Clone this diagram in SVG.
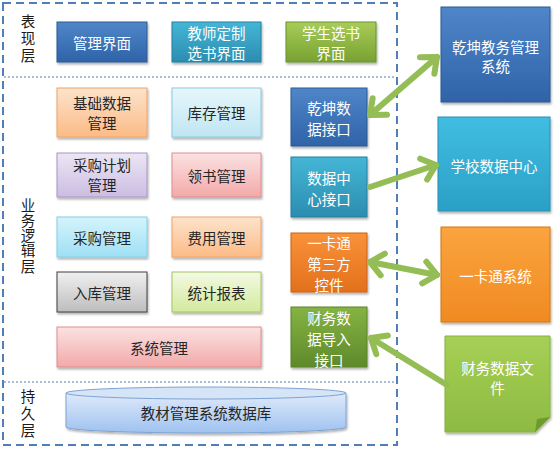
<svg xmlns="http://www.w3.org/2000/svg" width="556" height="450" viewBox="0 0 556 450">
<style>
text{font-family:"Noto Sans CJK SC","Noto Sans",sans-serif;font-size:14.5px;text-anchor:middle;dominant-baseline:central}
.w{fill:#ffffff}
.d{fill:#262626}
.lab{font-size:14.5px;fill:#1a1a1a;writing-mode:vertical-rl;glyph-orientation-vertical:0;dominant-baseline:auto}
.box{stroke-width:1;filter:url(#sh)}
.arrow{fill:none;stroke:#94bd55;stroke-width:6;stroke-linecap:round}
</style>
<defs>
<filter id="sh" x="-10%" y="-10%" width="125%" height="130%"><feDropShadow dx="1" dy="2" stdDeviation="1.2" flood-color="#000" flood-opacity="0.3"/></filter>
<linearGradient id="gBlue" x1="0" y1="0" x2="0" y2="1"><stop offset="0" stop-color="#4f86c9"/><stop offset="1" stop-color="#2f63a8"/></linearGradient>
<linearGradient id="gTeal" x1="0" y1="0" x2="0" y2="1"><stop offset="0" stop-color="#45b6d6"/><stop offset="1" stop-color="#2b8db0"/></linearGradient>
<linearGradient id="gTeal2" x1="0" y1="0" x2="0" y2="1"><stop offset="0" stop-color="#41bde2"/><stop offset="1" stop-color="#2aa0c6"/></linearGradient>
<linearGradient id="gGreen" x1="0" y1="0" x2="0" y2="1"><stop offset="0" stop-color="#a8cc58"/><stop offset="1" stop-color="#78a232"/></linearGradient>
<linearGradient id="gGreen2" x1="0" y1="0" x2="0" y2="1"><stop offset="0" stop-color="#86b344"/><stop offset="1" stop-color="#5e8a2a"/></linearGradient>
<linearGradient id="gGreen3" x1="0" y1="0" x2="0" y2="1"><stop offset="0" stop-color="#a6cf55"/><stop offset="1" stop-color="#8dbb42"/></linearGradient>
<linearGradient id="gOrange" x1="0" y1="0" x2="0" y2="1"><stop offset="0" stop-color="#f9923a"/><stop offset="1" stop-color="#e3701c"/></linearGradient>
<linearGradient id="gOrange2" x1="0" y1="0" x2="0" y2="1"><stop offset="0" stop-color="#fba43e"/><stop offset="1" stop-color="#f08a22"/></linearGradient>
<linearGradient id="gLOrange" x1="0" y1="0" x2="0" y2="1"><stop offset="0" stop-color="#fde3cc"/><stop offset="1" stop-color="#fbbb86"/></linearGradient>
<linearGradient id="gLCyan" x1="0" y1="0" x2="0" y2="1"><stop offset="0" stop-color="#e6f6fb"/><stop offset="1" stop-color="#bfe6f2"/></linearGradient>
<linearGradient id="gLCyan2" x1="0" y1="0" x2="0" y2="1"><stop offset="0" stop-color="#d4f4fc"/><stop offset="1" stop-color="#9fe0f4"/></linearGradient>
<linearGradient id="gLPurple" x1="0" y1="0" x2="0" y2="1"><stop offset="0" stop-color="#ece6f4"/><stop offset="1" stop-color="#cbbde2"/></linearGradient>
<linearGradient id="gLRed" x1="0" y1="0" x2="0" y2="1"><stop offset="0" stop-color="#fbe2e2"/><stop offset="1" stop-color="#f3a9a9"/></linearGradient>
<linearGradient id="gGray" x1="0" y1="0" x2="0" y2="1"><stop offset="0" stop-color="#f0f0f0"/><stop offset="1" stop-color="#bdbdbd"/></linearGradient>
<linearGradient id="gLGreen" x1="0" y1="0" x2="0" y2="1"><stop offset="0" stop-color="#f3f9e4"/><stop offset="1" stop-color="#d4ea9c"/></linearGradient>
<linearGradient id="gDb" x1="0" y1="0" x2="0" y2="1"><stop offset="0" stop-color="#dfeafb"/><stop offset="1" stop-color="#9fc2ef"/></linearGradient>
<marker id="ah" markerUnits="userSpaceOnUse" viewBox="-20 -15 26 30" markerWidth="26" markerHeight="30" refX="0" refY="0" orient="auto-start-reverse" overflow="visible">
<path d="M-13,-11 L0,0 L-13,11" fill="none" stroke="#94bd55" stroke-width="6" stroke-linecap="round" stroke-linejoin="round"/>
</marker>
</defs>

<g id="frame">
<rect x="3" y="3" width="394" height="442" fill="none" stroke="#4f7fb8" stroke-width="2" stroke-dasharray="8,5"/>
<line x1="4" y1="77" x2="396" y2="77" stroke="#4f7fb8" stroke-width="1" stroke-dasharray="2,2"/>
<line x1="4" y1="382" x2="396" y2="382" stroke="#4f7fb8" stroke-width="1" stroke-dasharray="2,2"/>
</g>

<g id="layer-labels">
<text class="lab" x="28" y="40" letter-spacing="2.5">表现层</text>
<text class="lab" x="28" y="236" letter-spacing="0.8">业务逻辑层</text>
<text class="lab" x="28" y="415" letter-spacing="2.5">持久层</text>
</g>

<g id="n-guanlijiemian"><rect class="box" x="57" y="22" width="90" height="40" fill="url(#gBlue)" stroke="#2d5a92"/><text class="w" x="102" y="42">管理界面</text></g>
<g id="n-jiaoshi"><rect class="box" x="172" y="22" width="89" height="40" fill="url(#gTeal)" stroke="#267f9e"/><text class="w" x="216.5" y="32">教师定制</text><text class="w" x="216.5" y="52">选书界面</text></g>
<g id="n-xuesheng"><rect class="box" x="286" y="22" width="90" height="40" fill="url(#gGreen)" stroke="#6b9130"/><text class="w" x="331" y="32">学生选书</text><text class="w" x="331" y="52">界面</text></g>

<g id="n-jichu"><rect class="box" x="57" y="88" width="90" height="49" fill="url(#gLOrange)" stroke="#f0a366"/><text class="d" x="102" y="102">基础数据</text><text class="d" x="102" y="122">管理</text></g>
<g id="n-kucun"><rect class="box" x="172" y="88" width="89" height="49" fill="url(#gLCyan)" stroke="#8ccadc"/><text class="d" x="216.5" y="112">库存管理</text></g>
<g id="n-caigoujihua"><rect class="box" x="57" y="153" width="90" height="44" fill="url(#gLPurple)" stroke="#a996c6"/><text class="d" x="102" y="164">采购计划</text><text class="d" x="102" y="184">管理</text></g>
<g id="n-lingshu"><rect class="box" x="172" y="153" width="89" height="44" fill="url(#gLRed)" stroke="#df8d8d"/><text class="d" x="216.5" y="175">领书管理</text></g>
<g id="n-caigou"><rect class="box" x="57" y="217" width="90" height="40" fill="url(#gLCyan2)" stroke="#7fd0ea"/><text class="d" x="102" y="237">采购管理</text></g>
<g id="n-feiyong"><rect class="box" x="172" y="217" width="89" height="40" fill="url(#gLOrange)" stroke="#f0a366"/><text class="d" x="216.5" y="237">费用管理</text></g>
<g id="n-ruku"><rect class="box" x="57" y="272" width="90" height="40" fill="url(#gGray)" stroke="#3f3f3f"/><text class="d" x="102" y="292">入库管理</text></g>
<g id="n-tongji"><rect class="box" x="172" y="272" width="89" height="40" fill="url(#gLGreen)" stroke="#a4c466"/><text class="d" x="216.5" y="292">统计报表</text></g>
<g id="n-xitong"><rect class="box" x="57" y="327" width="204" height="40" fill="url(#gLRed)" stroke="#df8d8d"/><text class="d" x="159" y="347">系统管理</text></g>

<g id="n-db">
<path class="box" d="M66,393 L66,427 A140,6 0 0 0 346,427 L346,393 Z" fill="url(#gDb)" stroke="#7ea3d4"/>
<ellipse cx="206" cy="393" rx="140" ry="6" fill="#d6e4f8" stroke="#7ea3d4"/>
<text class="d" x="206" y="412">教材管理系统数据库</text>
</g>

<g id="n-qiankunjiekou"><rect class="box" x="291" y="88" width="76" height="58" fill="url(#gBlue)" stroke="#2d5a92"/><text class="w" x="329" y="107">乾坤数</text><text class="w" x="329" y="128">据接口</text></g>
<g id="n-shujuzhongxinjiekou"><rect class="box" x="291" y="157" width="76" height="60" fill="url(#gTeal)" stroke="#267f9e"/><text class="w" x="329" y="177">数据中</text><text class="w" x="329" y="198">心接口</text></g>
<g id="n-yikatongkongjian"><rect class="box" x="291" y="233" width="76" height="59" fill="url(#gOrange)" stroke="#c9621a"/><text class="w" x="329" y="242">一卡通</text><text class="w" x="329" y="263">第三方</text><text class="w" x="329" y="284">控件</text></g>
<g id="n-caiwujiekou"><rect class="box" x="291" y="307" width="76" height="60" fill="url(#gGreen2)" stroke="#5a8228"/><text class="w" x="329" y="317">财务数</text><text class="w" x="329" y="338">据导入</text><text class="w" x="329" y="359">接口</text></g>

<g id="n-qiankunxitong"><rect class="box" x="441" y="7" width="109" height="95" fill="url(#gBlue)" stroke="#2d5a92"/><text class="w" x="495.5" y="46">乾坤教务管理</text><text class="w" x="495.5" y="65">系统</text></g>
<g id="n-xuexiaozhongxin"><rect class="box" x="438" y="117" width="112" height="94" fill="url(#gTeal2)" stroke="#2a8fb3"/><text class="w" x="494" y="165">学校数据中心</text></g>
<g id="n-yikatongxitong"><rect class="box" x="441" y="227" width="109" height="95" fill="url(#gOrange2)" stroke="#d0781c"/><text class="w" x="495.5" y="275">一卡通系统</text></g>
<g id="n-caiwuwenjian">
<path class="box" d="M445,336 L550,336 L550,417 L535,432 L445,432 Z" fill="url(#gGreen3)" stroke="#86b33f"/>
<path d="M550,417 L537,419 L535,432 Z" fill="#6f9a2c"/>
<text class="w" x="497.5" y="367">财务数据文</text><text class="w" x="497.5" y="387">件</text>
</g>

<g id="connectors">
<line class="arrow" x1="370" y1="115" x2="437" y2="57" marker-start="url(#ah)" marker-end="url(#ah)"/>
<line class="arrow" x1="370" y1="187" x2="436" y2="165" marker-end="url(#ah)"/>
<line class="arrow" x1="370" y1="262" x2="437" y2="275" marker-start="url(#ah)" marker-end="url(#ah)"/>
<line class="arrow" x1="447" y1="385" x2="371" y2="338" marker-end="url(#ah)"/>
</g>
</svg>
